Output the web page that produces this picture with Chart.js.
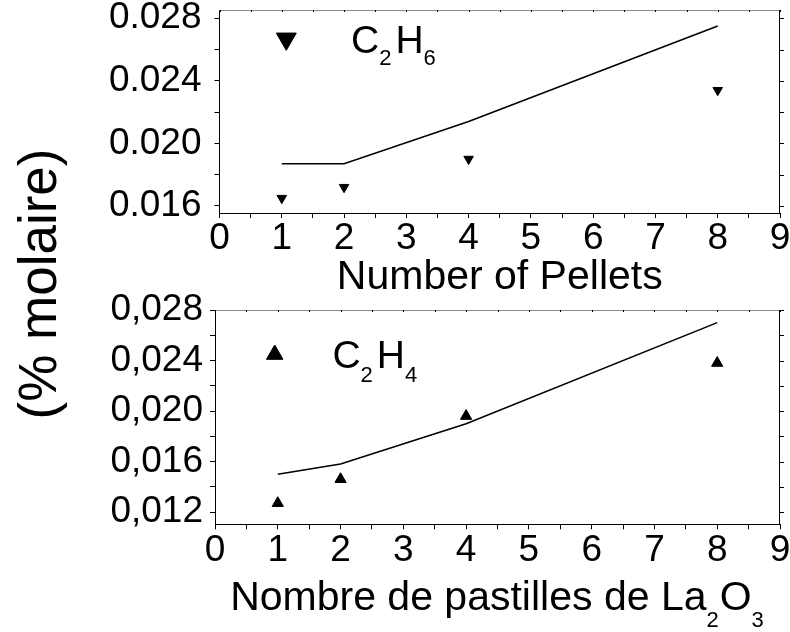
<!DOCTYPE html>
<html>
<head>
<meta charset="utf-8">
<script src="https://cdn.jsdelivr.net/npm/chart.js@4.4.1/dist/chart.umd.min.js"></script>
<style>
  html, body { margin: 0; padding: 0; background: #fff; }
  #wrap { position: relative; width: 790px; height: 632px; overflow: hidden; background: #fff; }
  #wrap canvas { position: absolute; left: 0; }
  #ethaneBox { position: absolute; left: 0; top: 0; width: 790px; height: 296px; }
  #ethyleneBox { position: absolute; left: 0; top: 260px; width: 790px; height: 372px; }
  #ytitle {
    position: absolute; left: -162px; top: 254px; width: 400px; height: 60px;
    line-height: 60px; text-align: center; white-space: nowrap;
    font-family: "Liberation Sans", Arial, sans-serif; font-size: 53px; color: #000;
    transform: rotate(-90deg); transform-origin: 50% 50%;
  }
</style>
</head>
<body>
<div id="wrap">
  <div id="ytitle">(% molaire)</div>
  <div id="ethaneBox"><canvas id="ethane" width="790" height="296"></canvas></div>
  <div id="ethyleneBox"><canvas id="ethylene" width="790" height="372"></canvas></div>
</div>
<script>
// Number of La2O3 pellets in the bed
const pellets = [1, 2, 4, 8];

// C2H6 (upper panel): measured points and model curve, mole %
const ethaneMeasured = [0.0165, 0.0172, 0.0190, 0.0234];
const ethaneModel    = [0.0187, 0.0187, 0.0214, 0.0275];

// C2H4 (lower panel): measured points and model curve, mole %
const ethyleneMeasured = [0.0127, 0.0146, 0.0196, 0.0238];
const ethyleneModel    = [0.0150, 0.0158, 0.0190, 0.0270];

// Shared x ticks (minor ticks every half pellet, labels on integers)
const xTickValues = [0, 0.5, 1, 1.5, 2, 2.5, 3, 3.5, 4, 4.5, 5, 5.5, 6, 6.5, 7, 7.5, 8, 8.5, 9];
const xTickLabels = ['0', '', '1', '', '2', '', '3', '', '4', '', '5', '', '6', '', '7', '', '8', '', '9'];

// y ticks for each panel
const ethaneYTicks  = [0.016, 0.018, 0.020, 0.022, 0.024, 0.026, 0.028];
const ethaneYLabels = ['0.016', '', '0.020', '', '0.024', '', '0.028'];
const ethyleneYTicks  = [0.012, 0.014, 0.016, 0.018, 0.020, 0.022, 0.024, 0.026, 0.028];
const ethyleneYLabels = ['0,012', '', '0,016', '', '0,020', '', '0,024', '', '0,028'];

const FONT = '"Liberation Sans", Arial, Helvetica, sans-serif';
const TICK_SIZE = 37;

function toPoints(xs, ys) {
  return xs.map((x, i) => ({ x: x, y: ys[i] }));
}

// Draws a sequence of text runs, some of them as subscripts
function drawRuns(ctx, runs, x, baseline, size, subSize, subDrop, subGap, align) {
  ctx.save();
  ctx.fillStyle = '#000';
  ctx.textBaseline = 'alphabetic';
  ctx.textAlign = 'left';
  const widths = runs.map(r => {
    ctx.font = (r.sub ? subSize : size) + 'px ' + FONT;
    return ctx.measureText(r.t).width + (r.sub ? subGap : 0);
  });
  const total = widths.reduce((a, b) => a + b, 0);
  let cx = align === 'center' ? x - total / 2 : x;
  runs.forEach((r, i) => {
    ctx.font = (r.sub ? subSize : size) + 'px ' + FONT;
    ctx.fillText(r.t, cx, baseline + (r.sub ? subDrop : 0));
    cx += widths[i];
  });
  ctx.restore();
}

// Frame (top + right), mirrored ticks, in-plot legend and x caption
const panelDecor = {
  id: 'panelDecor',
  afterDraw(chart, args, opts) {
    const ctx = chart.ctx;
    const a = chart.chartArea;
    const xs = chart.scales.x, ys = chart.scales.y;
    ctx.save();
    // top border
    ctx.strokeStyle = '#8a8a8a';
    ctx.lineWidth = 1;
    ctx.beginPath();
    ctx.moveTo(a.left, a.top + 0.5);
    ctx.lineTo(a.right, a.top + 0.5);
    ctx.stroke();
    // small ticks on the top border
    ctx.strokeStyle = '#000';
    xs.ticks.forEach(t => {
      const px = Math.round(xs.getPixelForValue(t.value)) + 0.5;
      ctx.beginPath();
      ctx.moveTo(px, a.top);
      ctx.lineTo(px, a.top + 2);
      ctx.stroke();
    });
    // right border
    ctx.beginPath();
    ctx.moveTo(Math.round(a.right) - 0.5, a.top);
    ctx.lineTo(Math.round(a.right) - 0.5, a.bottom);
    ctx.stroke();
    // ticks on the right border
    ys.ticks.forEach(t => {
      const py = Math.round(ys.getPixelForValue(t.value)) + 0.5;
      ctx.beginPath();
      ctx.moveTo(a.right, py);
      ctx.lineTo(a.right + 4, py);
      ctx.stroke();
    });
    // legend marker + species name
    const w = a.right - a.left, h = a.bottom - a.top;
    const lg = opts.legend;
    ctx.fillStyle = '#000';
    ctx.strokeStyle = '#000';
    Chart.helpers.drawPoint(ctx, {
      pointStyle: 'triangle', rotation: lg.rotation, radius: lg.radius, borderWidth: 1
    }, a.left + lg.mx * w, a.top + lg.my * h);
    ctx.fill();
    drawRuns(ctx, lg.runs, a.left + lg.tx * w, a.top + lg.ty * h, 39, 22, lg.subDrop, 4, 'left');
    // x caption
    const cap = opts.caption;
    drawRuns(ctx, cap.runs, (a.left + a.right) / 2, a.bottom + cap.offset, 41, 22, 17, 1, 'center');
    ctx.restore();
  }
};

function makeChart(canvasId, cfg) {
  return new Chart(document.getElementById(canvasId), {
    type: 'scatter',
    data: {
      datasets: [
        {
          label: cfg.name,
          data: toPoints(pellets, cfg.measured),
          showLine: false,
          pointStyle: 'triangle',
          rotation: cfg.markerRotation,
          pointRadius: cfg.markerRadius,
          pointBackgroundColor: '#000',
          pointBorderColor: '#000',
          pointBorderWidth: 1
        },
        {
          label: cfg.name + ' model',
          data: toPoints(pellets, cfg.model),
          showLine: true,
          tension: 0,
          borderColor: '#000',
          borderWidth: 1.6,
          pointRadius: 0,
          fill: false
        }
      ]
    },
    options: {
      responsive: false,
      animation: false,
      events: [],
      layout: { padding: { left: 0, right: 10, top: cfg.padTop, bottom: 0 } },
      plugins: {
        legend: { display: false },
        tooltip: { enabled: false },
        panelDecor: { legend: cfg.legend, caption: cfg.caption }
      },
      scales: {
        x: {
          type: 'linear',
          position: 'bottom',
          min: 0, max: 9,
          afterBuildTicks: s => { s.ticks = xTickValues.map(v => ({ value: v })); },
          afterFit: s => { s.height = cfg.xHeight; s.paddingLeft = 0; s.paddingRight = 0; },
          ticks: {
            autoSkip: false, maxRotation: 0, minRotation: 0, padding: -1,
            color: '#000', font: { family: FONT, size: TICK_SIZE },
            callback: (v, i) => xTickLabels[i]
          },
          grid: {
            display: true, drawOnChartArea: false, drawTicks: true,
            tickLength: 5, tickColor: '#000', lineWidth: 1
          },
          border: { display: true, color: '#000', width: 1 }
        },
        y: {
          type: 'linear',
          position: 'left',
          min: cfg.yMin, max: cfg.yMax,
          afterBuildTicks: s => { s.ticks = cfg.yTicks.map(v => ({ value: v })); },
          afterFit: s => { s.width = cfg.yWidth; s.paddingTop = 0; s.paddingBottom = 0; },
          ticks: {
            autoSkip: false, padding: cfg.yPad,
            color: '#000', font: { family: FONT, size: TICK_SIZE },
            callback: (v, i) => cfg.yLabels[i]
          },
          grid: {
            display: true, drawOnChartArea: false, drawTicks: true,
            tickLength: 5, tickColor: '#000', lineWidth: 1
          },
          border: { display: true, color: '#000', width: 1 }
        }
      }
    },
    plugins: [panelDecor]
  });
}

// Upper panel: ethane
makeChart('ethane', {
  name: 'C2H6',
  measured: ethaneMeasured,
  model: ethaneModel,
  markerRotation: 180,
  markerRadius: 5.5,
  yTicks: ethaneYTicks,
  yLabels: ethaneYLabels,
  yMin: 0.01555, yMax: 0.02853,
  yWidth: 219.5,
  yPad: 13,
  padTop: 10,
  xHeight: 83,
  legend: {
    rotation: 180, radius: 11.5, mx: 0.1192, my: 0.1420,
    tx: 0.2346, ty: 0.2133, subDrop: 12,
    runs: [{ t: 'C' }, { t: '2', sub: true }, { t: 'H' }, { t: '6', sub: true }]
  },
  caption: { offset: 76, runs: [{ t: 'Number of Pellets' }] }
});

// Lower panel: ethylene
makeChart('ethylene', {
  name: 'C2H4',
  measured: ethyleneMeasured,
  model: ethyleneModel,
  markerRotation: 0,
  markerRadius: 6.5,
  yTicks: ethyleneYTicks,
  yLabels: ethyleneYLabels,
  yMin: 0.01103, yMax: 0.028,
  yWidth: 215,
  yPad: 7,
  padTop: 50,
  xHeight: 107.7,
  legend: {
    rotation: 0, radius: 9.5, mx: 0.1057, my: 0.2077,
    tx: 0.2078, ty: 0.2720, subDrop: 14,
    runs: [{ t: 'C' }, { t: '2', sub: true }, { t: 'H' }, { t: '4', sub: true }]
  },
  caption: {
    offset: 85.7,
    runs: [{ t: 'Nombre de pastilles de La' }, { t: '2', sub: true }, { t: 'O' }, { t: '3', sub: true }]
  }
});
</script>
</body>
</html>
